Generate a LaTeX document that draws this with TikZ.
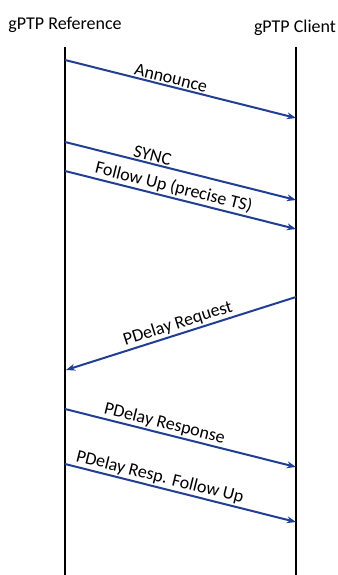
\documentclass[tikz,border=0pt]{standalone}
\usepackage{fontspec}
\setmainfont{Carlito}
\usepackage{xcolor}
\usepackage{tikz}
\usetikzlibrary{arrows.meta}

\definecolor{msgblue}{RGB}{32,62,148}

\begin{document}
\begin{tikzpicture}[x=1pt, y=-1pt,
  title/.style={font=\fontsize{18}{20}\selectfont, anchor=base},
  life/.style={line width=2pt, black},
  msg/.style={-{Stealth[length=3.2mm, width=2.4mm, inset=1mm]}, line width=2pt, msgblue},
  lbl/.style={font=\fontsize{18}{20}\selectfont, text=black, sloped, above, inner sep=1.5pt}]
  \useasboundingbox (0,0) rectangle (337,575);
  % endpoints
  \node[title] (ref) at (65,30) {gPTP Reference};
  \node[title] (cli) at (295,33) {gPTP Client};
  \coordinate (reftop) at (65,47);
  \coordinate (refbot) at (65,575);
  \coordinate (clitop) at (296,47);
  \coordinate (clibot) at (296,575);
  \draw[life] (reftop) -- (refbot);
  \draw[life] (clitop) -- (clibot);
  % messages
  \coordinate (a1) at (65,60);   \coordinate (a2) at (296,118);
  \coordinate (s1) at (65,142);  \coordinate (s2) at (296,200);
  \coordinate (f1) at (65,171);  \coordinate (f2) at (296,229);
  \coordinate (q1) at (296,297); \coordinate (q2) at (66,370);
  \coordinate (p1) at (65,409);  \coordinate (p2) at (296,467);
  \coordinate (u1) at (65,464);  \coordinate (u2) at (296,522);
  \draw[msg] (a1) -- node[lbl, pos=0.45] {Announce} (a2);
  \draw[msg] (s1) -- node[lbl, pos=0.37] {SYNC} (s2);
  \draw[msg] (f1) -- node[lbl, pos=0.46] {Follow Up (precise TS)} (f2);
  \draw[msg] (q1) -- node[lbl, pos=0.5] {PDelay Request} (q2);
  \draw[msg] (p1) -- node[lbl, pos=0.42] {PDelay Response} (p2);
  \draw[msg] (u1) -- node[lbl, pos=0.4] {PDelay Resp. Follow Up} (u2);
\end{tikzpicture}
\end{document}
